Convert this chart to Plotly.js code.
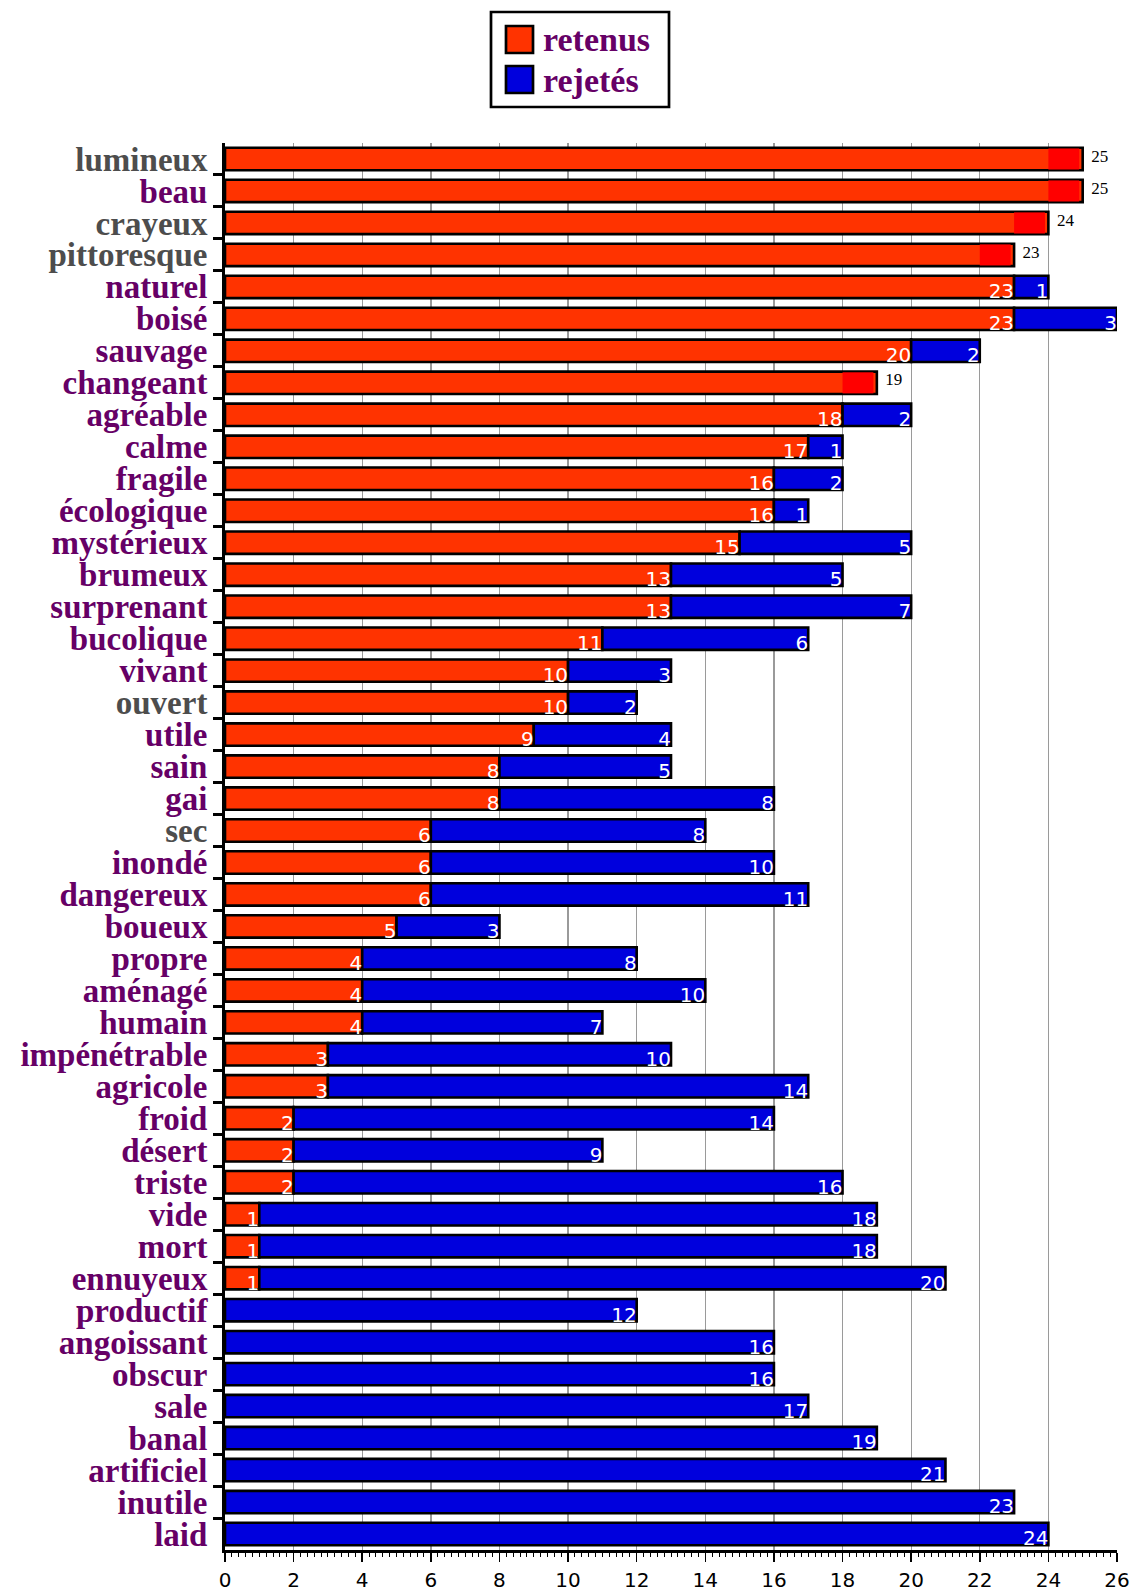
<!DOCTYPE html>
<html>
<head>
<meta charset="utf-8">
<script src="https://cdn.plot.ly/plotly-3.0.1.min.js"></script>
<style>html,body{margin:0;padding:0;background:#fff;}#chart{width:1132px;height:1593px;}</style>
</head>
<body>
<div id="chart"></div>
<script>
const categories = ['lumineux','beau','crayeux','pittoresque','naturel','boisé','sauvage','changeant','agréable','calme','fragile','écologique','mystérieux','brumeux','surprenant','bucolique','vivant','ouvert','utile','sain','gai','sec','inondé','dangereux','boueux','propre','aménagé','humain','impénétrable','agricole','froid','désert','triste','vide','mort','ennuyeux','productif','angoissant','obscur','sale','banal','artificiel','inutile','laid'];
const retenus = [25,25,24,23,23,23,20,19,18,17,16,16,15,13,13,11,10,10,9,8,8,6,6,6,5,4,4,4,3,3,2,2,2,1,1,1,0,0,0,0,0,0,0,0];
const rejetes = [0,0,0,0,1,3,2,0,2,1,2,1,5,5,7,6,3,2,4,5,8,8,10,11,3,8,10,7,10,14,14,9,16,18,18,20,12,16,16,17,19,21,23,24];
const seriesNames = ['retenus','rejetés'];
const grayLabels = ['lumineux','crayeux','pittoresque','ouvert','sec'];
const xTickStep = 2;

const C_RET = '#ff3300', C_REJ = '#0000dd', C_FLAG = '#ff0000';
const PURPLE = '#660066', GRAY = '#4d4d4d';

const yIdx = categories.map((_, i) => i);
const ticktext = categories.map(c => grayLabels.includes(c) ? '<span style="color:' + GRAY + '">' + c + '</span>' : c);

const barLine = {color: '#000', width: 2.6};
const traces = [
  {type: 'bar', orientation: 'h', name: seriesNames[0], y: yIdx, x: retenus.map(v => v || null), base: 0, width: 0.7,
   marker: {color: C_RET, line: barLine}, hoverinfo: 'skip', showlegend: false},
  {type: 'bar', orientation: 'h', name: seriesNames[1], y: yIdx, x: rejetes.map(v => v || null), base: retenus, width: 0.7,
   marker: {color: C_REJ, line: barLine}, hoverinfo: 'skip', showlegend: false},
  {type: 'bar', orientation: 'h', y: yIdx, x: rejetes.map(v => v === 0 ? 0.9 : null), base: retenus.map(v => v - 1.0), width: 0.66,
   marker: {color: C_FLAG, line: {width: 0}}, hoverinfo: 'skip', showlegend: false},
  // white inside labels (retenus)
  {type: 'scatter', mode: 'text', y: yIdx.map(i => i + 0.2), x: retenus.map((v, i) => (v > 0 && rejetes[i] > 0) ? v : null),
   text: retenus.map(v => String(v)), textposition: 'middle left', cliponaxis: false,
   textfont: {family: 'DejaVu Sans', size: 20, color: '#fff'}, hoverinfo: 'skip', showlegend: false},
  // white inside labels (rejetés)
  {type: 'scatter', mode: 'text', y: yIdx.map(i => i + 0.2), x: rejetes.map((v, i) => v > 0 ? v + retenus[i] : null),
   text: rejetes.map(v => String(v)), textposition: 'middle left', cliponaxis: false,
   textfont: {family: 'DejaVu Sans', size: 20, color: '#fff'}, hoverinfo: 'skip', showlegend: false},
  // black outside labels
  {type: 'scatter', mode: 'text', y: yIdx.map(i => i - 0.05), x: retenus.map((v, i) => rejetes[i] === 0 ? v : null),
   text: retenus.map(v => '\u00a0\u00a0' + v), textposition: 'middle right', cliponaxis: false,
   textfont: {family: 'Liberation Serif', size: 17, color: '#000'}, hoverinfo: 'skip', showlegend: false}
];

const L = 225, R = 1117, T = 143, B = 1550;
const px = x => (x - L) / (R - L);
const py = y => (B - y) / (B - T);

const shapes = [
  {type: 'rect', xref: 'paper', yref: 'paper', x0: px(491), x1: px(669), y0: py(12), y1: py(107), line: {color: '#000', width: 2.7}, fillcolor: '#fff'},
  {type: 'rect', xref: 'paper', yref: 'paper', x0: px(506), x1: px(533), y0: py(26), y1: py(53), line: {color: '#000', width: 2.7}, fillcolor: C_RET},
  {type: 'rect', xref: 'paper', yref: 'paper', x0: px(506), x1: px(533), y0: py(66), y1: py(93), line: {color: '#000', width: 2.7}, fillcolor: C_REJ}
];
const annotations = [
  {xref: 'paper', yref: 'paper', x: px(541), y: py(40), xanchor: 'left', yanchor: 'middle', showarrow: false, text: seriesNames[0],
   font: {family: 'Liberation Serif', size: 34, color: PURPLE, weight: 'bold'}},
  {xref: 'paper', yref: 'paper', x: px(541), y: py(80), xanchor: 'left', yanchor: 'middle', showarrow: false, text: seriesNames[1],
   font: {family: 'Liberation Serif', size: 34, color: PURPLE, weight: 'bold'}}
];

const layout = {
  width: 1132, height: 1593,
  margin: {l: L, r: 1132 - R, t: T, b: 1593 - B, pad: 0},
  paper_bgcolor: '#fff', plot_bgcolor: '#fff',
  barmode: 'overlay',
  showlegend: false,
  xaxis: {range: [0, 26], tick0: 0, dtick: xTickStep, ticks: 'outside', ticklen: 9, tickwidth: 1.5, tickcolor: '#000',
    showgrid: true, gridcolor: '#9a9a9a', gridwidth: 1.3, zeroline: false, showline: true, linecolor: '#000', linewidth: 3,
    ticklabelstandoff: 1,
    tickfont: {family: 'DejaVu Sans', size: 20, color: '#000'},
    minor: {dtick: 0.2, ticks: 'outside', ticklen: 4, tickwidth: 1, tickcolor: '#000', showgrid: false}},
  yaxis: {range: [43.5, -0.5], tickmode: 'array', tickvals: yIdx, ticktext: ticktext, ticks: 'outside', ticklen: 0,
    showgrid: false, zeroline: false, showline: true, linecolor: '#000', linewidth: 3,
    ticklabelstandoff: 8,
    tickfont: {family: 'Liberation Serif', size: 33, color: PURPLE, weight: 'bold'},
    minor: {tickmode: 'array', tickvals: yIdx.slice(0, -1).map(i => i + 0.5), ticks: 'outside', ticklen: 9, tickwidth: 3, tickcolor: '#000', showgrid: false}},
  shapes: shapes,
  annotations: annotations
};

Plotly.newPlot('chart', traces, layout, {displayModeBar: false, staticPlot: true});
</script>
</body>
</html>
